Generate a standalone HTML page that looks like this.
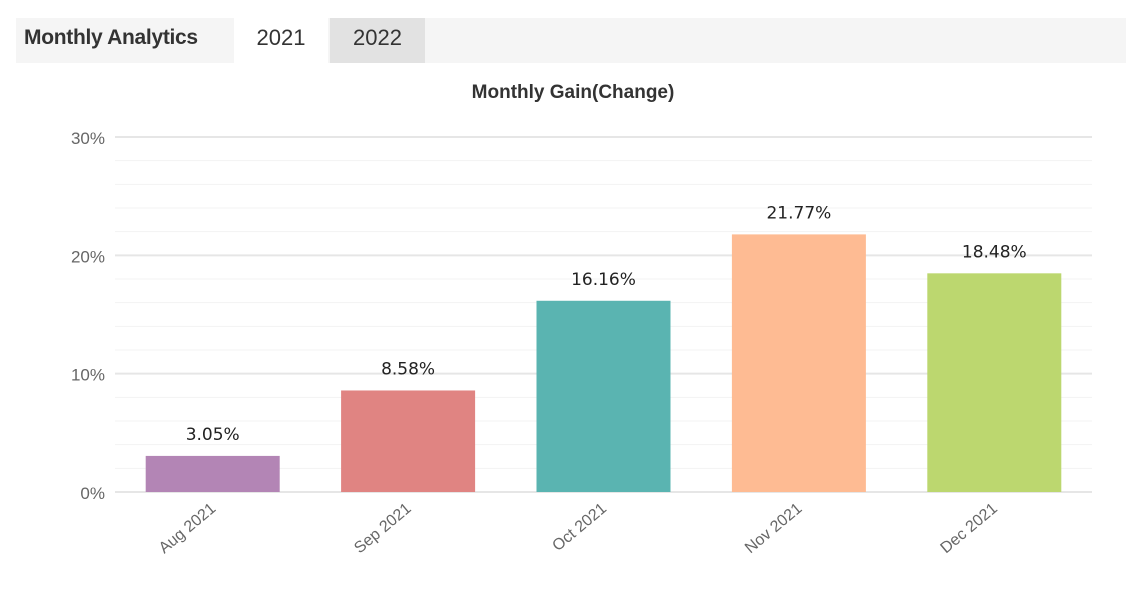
<!DOCTYPE html>
<html><head><meta charset="utf-8"><style>
body{margin:0;width:1143px;height:600px;background:#fff;font-family:"Liberation Sans",sans-serif;overflow:hidden;position:relative}
.hdr{position:absolute;left:16px;top:18px;width:1110px;height:45px;background:#f5f5f5}
.tab{position:absolute;top:0;height:45px;line-height:40px;font-size:22px;color:#333;text-align:center}
</style></head><body>
<div class="hdr">
<div class="tab" style="left:8px;font-weight:bold;font-size:21px;color:#333;letter-spacing:-0.3px">Monthly Analytics</div>
<div class="tab" style="left:218px;width:94px;background:#fff">2021</div>
<div class="tab" style="left:314px;width:95px;background:#e2e2e2">2022</div>
</div>
<svg id="chart" width="1143" height="600" style="position:absolute;left:0;top:0">
<text x="573" y="98" text-anchor="middle" font-size="19" font-weight="bold" fill="#333">Monthly Gain(Change)</text>
</svg>
<script>
const categories=["Aug 2021","Sep 2021","Oct 2021","Nov 2021","Dec 2021"];
const values=[3.05,8.58,16.16,21.77,18.48];
const colors=["#b385b5","#e08482","#5ab4b1","#febb93","#bcd76f"];
const yTicks=[0,10,20,30];
const yTickLabels=["0%","10%","20%","30%"];
const svg=document.getElementById('chart');
const NS="http://www.w3.org/2000/svg";
const x0=115,x1=1092,y0=492,y30=137;
const y=v=>y0-(v/30)*(y0-y30);
const band=(x1-x0)/categories.length;
const xc=i=>x0+band*(i+0.5);
function mk(t,a){const e=document.createElementNS(NS,t);for(const k in a)e.setAttribute(k,a[k]);svg.appendChild(e);return e;}
for(let v=0;v<=30;v+=2){
 const major=v%10===0;
 const l=mk('line',{x1:x0,x2:x1,y1:y(v),y2:y(v),stroke:major?'#e6e6e6':'#f3f3f3','stroke-width':major?2:1});
 
 
}
yTicks.forEach((v,i)=>{
 const t=mk('text',{x:105,y:y(v)+7,'text-anchor':'end','font-size':17,fill:'#666'});
 t.textContent=yTickLabels[i];
 
 
});
categories.forEach((c,i)=>{
 const w=134,cx=xc(i);
 const r=mk('rect',{x:cx-w/2,y:y(values[i]),width:w,height:y0-y(values[i]),fill:colors[i]});
 
 
 const t=mk('text',{x:cx,y:y(values[i])-16,'text-anchor':'middle','font-size':17,fill:'#222','font-family':'DejaVu Sans, sans-serif'});
 t.textContent=values[i].toFixed(2)+'%';
 
 
 const lx=cx+4,ly=510;
 const a=mk('text',{x:lx,y:ly,'text-anchor':'end','font-size':16,fill:'#666',transform:`rotate(-40 ${lx} ${ly})`});
 a.textContent=c;
 
 
});
</script>
</body></html>
